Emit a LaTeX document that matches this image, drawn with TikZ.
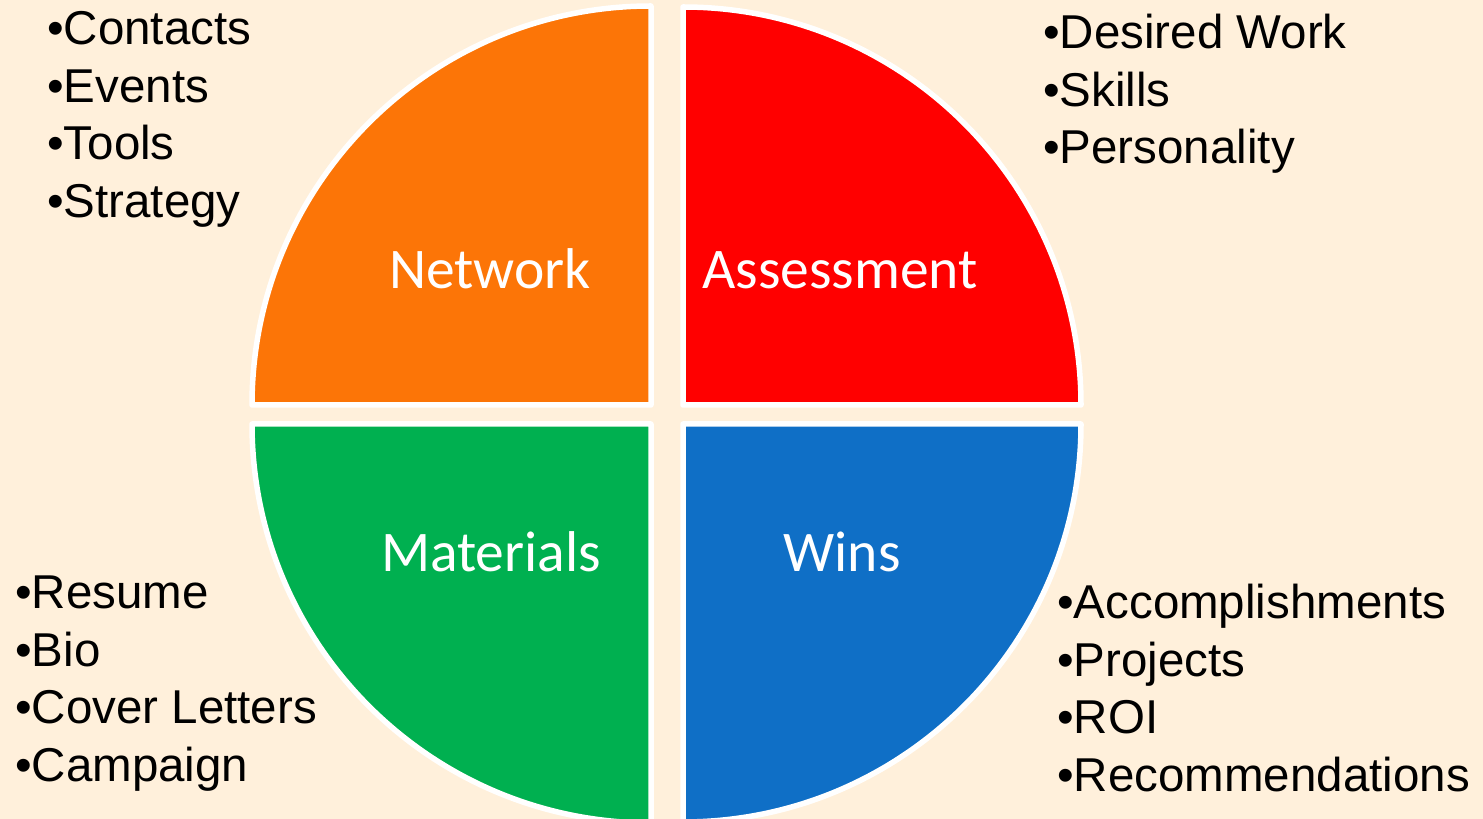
\documentclass[tikz,border=0pt]{standalone}
\usepackage{fontspec}
\setmainfont{Liberation Sans}
\newfontfamily\labelfont{Carlito}
\definecolor{bgcream}{HTML}{FFF0DB}
\definecolor{qorange}{HTML}{FC7507}
\definecolor{qred}{HTML}{FF0000}
\definecolor{qgreen}{HTML}{00B050}
\definecolor{qblue}{HTML}{0F6FC6}
\begin{document}
\begin{tikzpicture}[x=1pt,y=1pt,
  quarter/.style={draw=white, line width=5.5pt, line join=round},
  seglabel/.style={text=white, font=\labelfont\fontsize{57.5}{62}\selectfont, anchor=base, inner sep=0pt},
  item/.style={font=\fontsize{47.5}{57.5}\selectfont, anchor=base west, inner sep=0pt}]
  % page and background
  \fill[bgcream] (0,0) rectangle (1483,819);
  \useasboundingbox (0,0) rectangle (1483,819);
  \clip (0,0) rectangle (1483,819);

  % four quarter discs
  \draw[quarter, fill=qorange] (651,414) -- (252,414) arc (180:90:399) -- cycle;
  \draw[quarter, fill=qred]    (683,414) -- (683,812) arc (90:0:398) -- cycle;
  \draw[quarter, fill=qgreen]  (651,395) -- (252,395) arc (180:270:399) -- cycle;
  \draw[quarter, fill=qblue]   (683,395) -- (1081,395) arc (0:-90:398) -- cycle;

  % segment titles
  \node[seglabel] (network)    at (490,530) {Network};
  \node[seglabel] (assessment) at (840,530) {Assessment};
  \node[seglabel] (materials)  at (491,247) {Materials};
  \node[seglabel] (wins)       at (842,247) {Wins};

  % bullet lists
  \foreach \t [count=\i] in {Contacts,Events,Tools,Strategy}
    \node[item] (net\i) at (47,{774-57.5*(\i-1)}) {•\t};
  \foreach \t [count=\i] in {Desired Work,Skills,Personality}
    \node[item] (ass\i) at (1043,{770-57.5*(\i-1)}) {•\t};
  \foreach \t [count=\i] in {Resume,Bio,Cover Letters,Campaign}
    \node[item] (mat\i) at (15,{210-57.5*(\i-1)}) {•\t};
  \foreach \t [count=\i] in {Accomplishments,Projects,ROI,Recommendations}
    \node[item] (win\i) at (1057,{200-57.5*(\i-1)}) {•\t};
\end{tikzpicture}
\end{document}
